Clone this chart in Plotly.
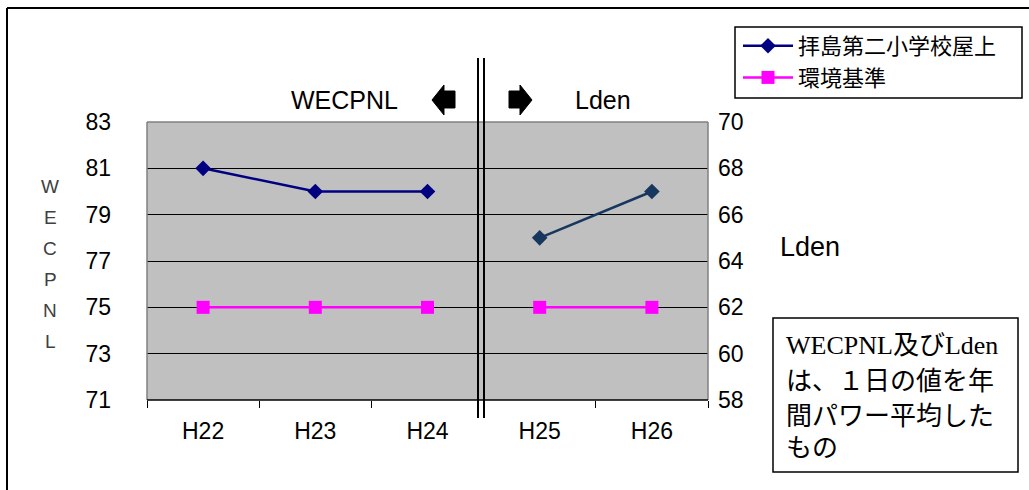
import plotly.graph_objects as go

# ---- data ----
cats_all = ["H22", "H23", "H24", "H25", "H26"]
cats_w = ["H22", "H23", "H24"]
cats_l = ["H25", "H26"]
site_w = [81, 80, 80]          # WECPNL (left axis)
site_l = [65, 67]              # Lden (right axis)
std_w = [75, 75, 75]
std_l = [62, 62]
name_site = "拝島第二小学校屋上"
name_std = "環境基準"
left_ticks = [71, 73, 75, 77, 79, 81, 83]
right_ticks = [58, 60, 62, 64, 66, 68, 70]

# ---- geometry helpers (plot area in px) ----
PL, PR, PT, PB = 147, 708, 122, 400
def px(x):
    return (x - PL) / (PR - PL)
def py(y):
    return (PB - y) / (PB - PT)

NAVY = "#000080"
NAVY2 = "#17375E"
MAG = "#FF00FF"

fig = go.Figure()
fig.add_trace(go.Scatter(x=cats_w, y=site_w, name=name_site, mode="lines+markers",
                         line=dict(color=NAVY, width=2.5),
                         marker=dict(symbol="diamond", size=12, color=NAVY),
                         legendrank=1))
fig.add_trace(go.Scatter(x=cats_w, y=std_w, name=name_std, mode="lines+markers",
                         line=dict(color=MAG, width=2.5),
                         marker=dict(symbol="square", size=13, color=MAG),
                         legendrank=2))
fig.add_trace(go.Scatter(x=cats_l, y=site_l, name=name_site, mode="lines+markers",
                         line=dict(color=NAVY2, width=2.5),
                         marker=dict(symbol="diamond", size=12, color=NAVY2),
                         yaxis="y2", showlegend=False))
fig.add_trace(go.Scatter(x=cats_l, y=std_l, name=name_std, mode="lines+markers",
                         line=dict(color=MAG, width=2.5),
                         marker=dict(symbol="square", size=13, color=MAG),
                         yaxis="y2", showlegend=False))

tickfont = dict(family="Liberation Sans, Arial, sans-serif", size=23, color="black")

fig.update_layout(
    width=1029, height=490,
    margin=dict(l=PL, r=1029 - PR, t=PT, b=490 - PB),
    paper_bgcolor="white",
    plot_bgcolor="#C0C0C0",
    font=dict(family="Liberation Sans, Noto Sans CJK JP, sans-serif", color="black"),
    xaxis=dict(type="category", categoryorder="array", categoryarray=cats_all,
               range=[-0.5, 4.5], showgrid=False, showline=False,
               ticks="outside", tickson="boundaries", ticklen=7, tickcolor="black",
               tickwidth=1, tickfont=tickfont, ticklabelstandoff=15),
    yaxis=dict(range=[71, 83], tickvals=left_ticks, showgrid=True, gridcolor="black",
               gridwidth=1, zeroline=False, showline=False, ticks="",
               tickfont=tickfont, ticklabelstandoff=35),
    yaxis2=dict(range=[58, 70], tickvals=right_ticks, overlaying="y", side="right",
                showgrid=False, zeroline=False, showline=False, ticks="",
                tickfont=tickfont, ticklabelstandoff=9),
    legend=dict(x=px(738), y=py(25), xanchor="left", yanchor="top",
                bgcolor="rgba(0,0,0,0)", borderwidth=0,
                font=dict(family="Noto Sans CJK JP, sans-serif", size=22, color="black"),
                itemwidth=50, tracegroupgap=6),
    showlegend=True,
)

shapes = []
# legend frame
shapes.append(dict(type="rect", xref="paper", yref="paper", x0=px(735), x1=px(1022),
                   y0=py(98), y1=py(27), fillcolor="white", line=dict(color="black", width=1.5)))
# plot border (gray) and bottom axis (black)
for (x0, y0, x1, y1) in [(0, 1, 1, 1), (0, 0, 0, 1), (1, 0, 1, 1)]:
    shapes.append(dict(type="line", xref="paper", yref="paper", x0=x0, y0=y0, x1=x1, y1=y1,
                       line=dict(color="#808080", width=1.5), layer="above"))
shapes.append(dict(type="line", xref="paper", yref="paper", x0=0, y0=0, x1=1, y1=0,
                   line=dict(color="black", width=1.5), layer="above"))
# double divider line
for xx in (478, 484):
    shapes.append(dict(type="line", xref="paper", yref="paper", x0=px(xx), x1=px(xx),
                       y0=py(58), y1=py(418), line=dict(color="black", width=2), layer="above"))
# arrows
def path(points):
    return "M " + " L ".join(f"{px(x):.5f},{py(y):.5f}" for x, y in points) + " Z"
left_arrow = [(432, 100), (444, 85), (444, 91), (455, 91), (455, 108), (444, 108), (444, 115)]
right_arrow = [(532, 100), (520, 85), (520, 91), (509, 91), (509, 108), (520, 108), (520, 115)]
for pts in (left_arrow, right_arrow):
    shapes.append(dict(type="path", xref="paper", yref="paper", path=path(pts),
                       fillcolor="black", line=dict(color="black", width=1)))
# outer frame (top and left edges)
shapes.append(dict(type="line", xref="paper", yref="paper", x0=px(7), x1=px(7),
                   y0=py(495), y1=py(8), line=dict(color="black", width=2)))
shapes.append(dict(type="line", xref="paper", yref="paper", x0=px(7), x1=px(1040),
                   y0=py(8), y1=py(8), line=dict(color="black", width=2)))
# note box
shapes.append(dict(type="rect", xref="paper", yref="paper", x0=px(773), x1=px(1018),
                   y0=py(472), y1=py(318), fillcolor="white", line=dict(color="black", width=1.5)))
fig.update_layout(shapes=shapes)

def label(text, x, y, size, family="Liberation Sans, Arial", color="black", xanchor="center"):
    return dict(text=text, x=px(x), y=py(y), xref="paper", yref="paper",
                xanchor=xanchor, yanchor="middle", showarrow=False,
                font=dict(family=family, size=size, color=color))

ann = []
ann.append(label("WECPNL", 344, 100, 25))
ann.append(label("Lden", 603, 100, 25))
ann.append(label("Lden", 810, 247, 27))
for letter, yy in zip(["W", "E", "C", "P", "N", "L"], [186, 217, 248, 279, 310, 341]):
    ann.append(label(letter, 50, yy, 19, color="#404040"))
note_lines = ["WECPNL及びLden", "は、１日の値を年", "間パワー平均した", "もの"]
for line, yy in zip(note_lines, [345, 381, 416, 448]):
    ann.append(label(line, 784, yy, 26, family="Liberation Serif, Noto Sans CJK JP, serif",
                     xanchor="left"))
fig.update_layout(annotations=ann)

fig.write_html("out.html", config={"displayModeBar": False},
               post_script="document.body.style.margin='0';")
